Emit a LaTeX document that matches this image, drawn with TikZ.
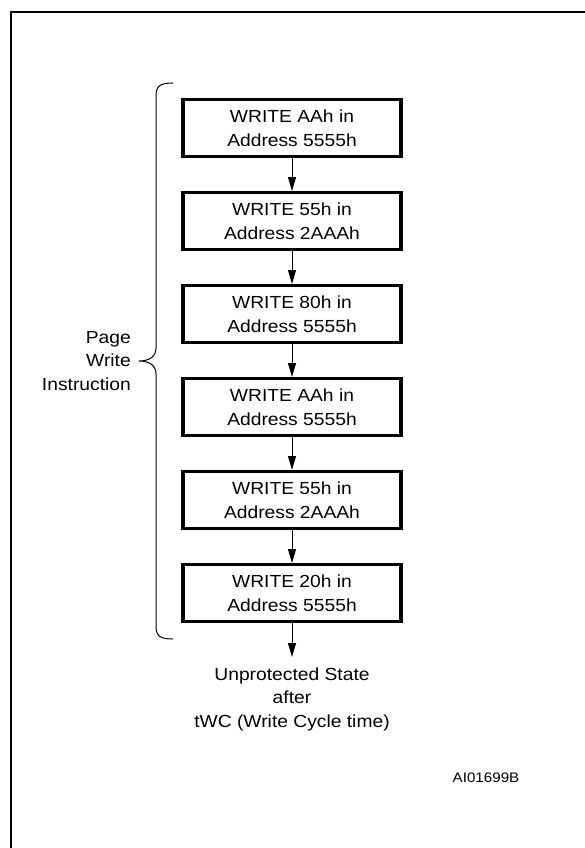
\documentclass[tikz,border=0pt]{standalone}
\usepackage{fontspec}
\setmainfont{Liberation Sans}[FakeStretch=1.1]
\usetikzlibrary{arrows.meta}
\begin{document}
\begin{tikzpicture}[x=1pt,y=-1pt,
  stepbox/.style={draw, line width=3.3pt, minimum width=218pt, minimum height=56.7pt, inner sep=0pt, align=center, font=\fontsize{17.5}{23.5}\selectfont},
  flow/.style={line width=1pt, -{Triangle[width=8pt,length=14pt]}},
  lbl/.style={inner sep=0pt, font=\fontsize{17.5}{23.5}\selectfont}]
\useasboundingbox (0,0) rectangle (585,848);
% frame
\draw[line width=2.2pt] (11,848) -- (11,12) -- (585,12);
% boxes
\node[stepbox] (b1) at (292,128) {WRITE AAh in\\Address 5555h};
\node[stepbox] (b2) at (292,221) {WRITE 55h in\\Address 2AAAh};
\node[stepbox] (b3) at (292,314) {WRITE 80h in\\Address 5555h};
\node[stepbox] (b4) at (292,407) {WRITE AAh in\\Address 5555h};
\node[stepbox] (b5) at (292,500) {WRITE 55h in\\Address 2AAAh};
\node[stepbox] (b6) at (292,593) {WRITE 20h in\\Address 5555h};
\coordinate (end) at (292,657);
\draw[flow] (b1) -- (b2);
\draw[flow] (b2) -- (b3);
\draw[flow] (b3) -- (b4);
\draw[flow] (b4) -- (b5);
\draw[flow] (b5) -- (b6);
\draw[flow] (b6) -- (end);
\node[lbl, align=center] (res) at (292,699) {Unprotected State\\after\\tWC (Write Cycle time)};
% brace
\draw[line width=1pt] (173,83) .. controls (160,83) and (156,86) .. (156,96) -- (156,348)
  .. controls (156,356) and (150,361) .. (139,361)
  .. controls (150,361) and (156,366) .. (156,374) -- (156,626)
  .. controls (156,636) and (160,639) .. (173,639);
\node[lbl, align=right, anchor=east] (pwi) at (131,361) {Page\\Write\\Instruction};
\node[inner sep=0pt, font=\fontsize{13.8}{16}\selectfont] (code) at (486,778) {AI01699B};
\end{tikzpicture}
\end{document}
